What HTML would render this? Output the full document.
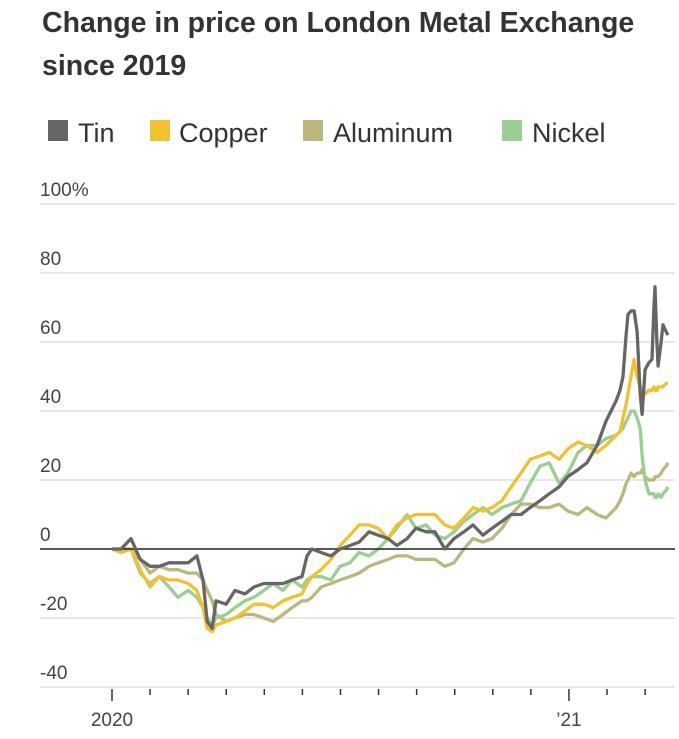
<!DOCTYPE html>
<html><head><meta charset="utf-8"><style>
body{margin:0;background:#fff;width:679px;height:739px;overflow:hidden;font-family:"Liberation Sans",sans-serif}
svg{position:absolute;left:0;top:0}
</style></head><body>
<svg width="679" height="739" id="c">
<text x="42" y="32" font-size="28.5" font-weight="bold" fill="#333">Change in price on London Metal Exchange</text>
<text x="42" y="75" font-size="28.5" font-weight="bold" fill="#333">since 2019</text>
<g font-size="27" fill="#333">
<rect x="48" y="120" width="20" height="21" fill="#666"/>
<text x="78" y="142">Tin</text>
<rect x="150" y="120" width="20" height="21" fill="#f2c12e"/>
<text x="179" y="142">Copper</text>
<rect x="303" y="120" width="20" height="21" fill="#bdb77e"/>
<text x="333" y="142">Aluminum</text>
<rect x="502" y="120" width="20" height="21" fill="#98d08f"/>
<text x="532" y="142">Nickel</text>
</g>
<g id="grid"></g><g id="series"></g><g id="xaxis"></g>
</svg>
<script>
const yTicks=[100,80,60,40,20,0,-20,-40];
const yTickLabels=["100%","80","60","40","20","0","-20","-40"];
const xTickLabels=[{m:0,t:"2020"},{m:12,t:"’21"}];
const dates=[0,.24,.5,.74,1,1.24,1.5,1.73,2,2.23,2.39,2.5,2.63,2.73,3,3.23,3.49,3.73,3.99,4.23,4.49,4.73,4.99,5.12,5.25,5.49,5.75,5.99,6.25,6.49,6.75,6.99,7.25,7.48,7.75,7.98,8.25,8.48,8.74,8.98,9.24,9.48,9.74,9.98,10.24,10.48,10.74,10.98,11.24,11.48,11.74,11.97,12.24,12.47,12.74,12.97,13.24,13.34,13.42,13.5,13.55,13.63,13.71,13.79,13.87,13.92,14,14.1,14.18,14.23,14.26,14.31,14.34,14.42,14.47,14.55,14.6];
const tin=[0,0,3,-3,-5,-5,-4,-4,-4,-2,-9,-21,-23,-15,-16,-12,-13,-11,-10,-10,-10,-9,-8,-2,0,-1,-2,0,1,2,5,4,3,1,3,6,5,5,0,3,5,7,4,6,8,10,10,12,14,16,18,21,23,25,30,37,43,46,50,62,68,69,69,63,45,39,52,54,55,70,76,60,53,60,65,63,62];
const copper=[0,-1,0,-6,-11,-8,-9,-9,-10,-12,-17,-23,-24,-22,-21,-20,-18,-16,-16,-17,-15,-14,-13,-10,-8,-6,-3,1,4,7,7,6,3,7,9,10,10,10,7,6,9,12,11,12,14,18,22,26,27,28,26,29,31,30,28,30,33,34,38,42,45,50,55,50,47,46,45,46,46,47,46,46,47,47,47,48,48];
const aluminum=[0,0,0,-3,-7,-5,-6,-6,-7,-7,-9,-12,-15,-19,-21,-20,-19,-19,-20,-21,-19,-17,-15,-15,-14,-11,-10,-9,-8,-7,-5,-4,-3,-2,-2,-3,-3,-3,-5,-4,0,3,2,3,6,10,13,13,12,12,13,11,10,12,10,9,12,14,16,19,20,22,21,22,22,23,21,20,20,20,21,21,21,22,23,24,25];
const nickel=[0,-1,0,-7,-10,-8,-11,-14,-12,-14,-17,-20,-22,-20,-19,-17,-15,-14,-12,-10,-12,-9,-11,-9,-8,-8,-9,-5,-4,-1,-2,0,3,6,10,6,7,4,3,5,8,10,12,10,12,13,14,19,24,25,19,22,28,30,30,32,33,34,35,37,38,40,40,38,35,27,20,16,16,16,15,15,16,15,16,17,18];
const NS="http://www.w3.org/2000/svg";
const X=m=>112+m*38.08, Y=v=>549-v*3.45;
const grid=document.getElementById('grid'),xa=document.getElementById('xaxis'),sg=document.getElementById('series');
function mk(tag,attrs,parent){const e=document.createElementNS(NS,tag);for(const k in attrs)e.setAttribute(k,attrs[k]);parent.appendChild(e);return e;}
yTicks.forEach((v,i)=>{
 if(v!==0){const l=mk('line',{x1:40,x2:675,y1:Y(v),y2:Y(v),stroke:'#e0e0e0','stroke-width':1.5},grid);
 
 }
 const t=mk('text',{x:40,y:Y(v)-8,'font-size':19,fill:'#444'},grid);
 
 
 t.textContent=yTickLabels[i];
});
for(let m=0;m<=14;m++){const big=(m%12===0);const l=mk('line',{x1:X(m),x2:X(m),y1:Y(-40)+2,y2:Y(-40)+(big?14:8),stroke:'#333','stroke-width':1.5},xa);
 
 }
xTickLabels.forEach(o=>{const t=mk('text',{x:X(o.m),y:726,'font-size':19,fill:'#444','text-anchor':'middle'},xa);
 
 
 t.textContent=o.t;});
function draw(arr,col,name){const n=Math.min(arr.length,dates.length);let d='';for(let i=0;i<n;i++)d+=(i?'L':'M')+X(dates[i]).toFixed(1)+','+Y(arr[i]).toFixed(1);
 const p=mk('path',{d:d,fill:'none',stroke:col,'stroke-width':3.3,'stroke-linejoin':'round'},sg);
 
 }
draw(aluminum,'#bdb77e','aluminum-line');
draw(nickel,'#98d08f','nickel-line');
draw(copper,'#f2c12e','copper-line');
const z=mk('line',{x1:40,x2:675,y1:Y(0),y2:Y(0),stroke:'#222','stroke-width':1.5},sg);


draw(tin,'#666','tin-line');
</script>
</body></html>
